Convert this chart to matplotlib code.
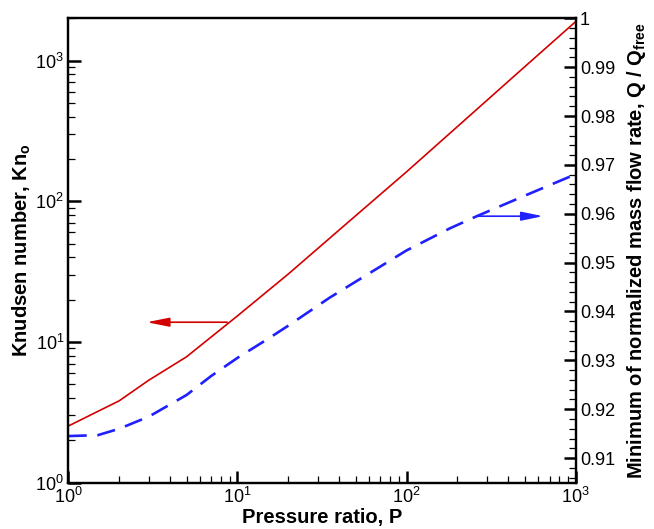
import numpy as np
import matplotlib.pyplot as plt
from matplotlib.ticker import LogLocator, MultipleLocator, FuncFormatter

plt.rcParams['font.family'] = ['Liberation Sans', 'DejaVu Sans']
plt.rcParams['mathtext.fontset'] = 'custom'
plt.rcParams['mathtext.rm'] = 'Liberation Sans'
plt.rcParams['mathtext.bf'] = 'Liberation Sans:bold'

# Knudsen number vs pressure ratio (left axis)
p_kn = [1, 2, 3, 5, 10, 20, 50, 100, 200, 500, 1000]
kn = [2.52, 3.81, 5.35, 7.83, 15.3, 30.4, 78.9, 162, 340, 906, 1896]

# minimum of normalized mass flow rate (right axis)
p_q = [1, 1.5, 2, 3, 5, 7, 10, 15, 20, 35, 50, 70, 100, 180, 260, 500, 1000]
q_min = [0.9145, 0.9147, 0.9160, 0.9185, 0.9229, 0.9268, 0.9305, 0.9343,
         0.9371, 0.9428, 0.9461, 0.9492, 0.9525, 0.9570, 0.9595, 0.9637, 0.9681]

red = '#d40000'
blue = '#2020ff'

fig = plt.figure(figsize=(6.54, 5.29), dpi=100)
ax = fig.add_axes([0.1044, 0.0879, 0.7759, 0.8775])
ax2 = ax.twinx()

ax.plot(p_kn, kn, color=red, lw=1.2)
ax2.plot(p_q, q_min, color=blue, lw=1.9, dashes=(7, 4))

ax.set_xscale('log')
ax.set_yscale('log')
ax.set_xlim(1, 1000)
ax.set_ylim(1, 2000)
ax2.set_ylim(0.905, 1.0)

# arrows pointing at the axis each curve belongs to
ax.annotate('', xy=(2.91, 13.8), xytext=(8.7, 13.8),
            arrowprops=dict(arrowstyle='-|>,head_length=1.35,head_width=0.27',
                            color=red, lw=1.2, mutation_scale=10,
                            shrinkA=0, shrinkB=0))
ax2.annotate('', xy=(640, 0.9595), xytext=(262, 0.9595),
             arrowprops=dict(arrowstyle='-|>,head_length=1.3,head_width=0.27',
                             color=blue, lw=1.2, mutation_scale=10,
                             shrinkA=0, shrinkB=0))

ax.xaxis.set_major_locator(LogLocator(base=10, numticks=10))
ax.xaxis.set_minor_locator(LogLocator(base=10, subs=np.arange(2, 10), numticks=10))
ax.yaxis.set_major_locator(LogLocator(base=10, numticks=10))
ax.yaxis.set_minor_locator(LogLocator(base=10, subs=np.arange(2, 10), numticks=10))
ax.xaxis.set_minor_formatter(plt.NullFormatter())
ax.yaxis.set_minor_formatter(plt.NullFormatter())

ax2.yaxis.set_major_locator(MultipleLocator(0.01))
ax2.yaxis.set_minor_locator(MultipleLocator(0.002))
ax2.yaxis.set_major_formatter(FuncFormatter(lambda v, pos: '%g' % round(v, 3)))

for a in (ax, ax2):
    for s in a.spines.values():
        s.set_linewidth(1.6)
    a.tick_params(which='major', direction='in', length=9, width=1.8, labelsize=13)
    a.tick_params(which='minor', direction='in', length=5, width=0.9)

ax.tick_params(which='both', top=False, right=False)
ax.tick_params(axis='x', pad=3)
ax.tick_params(axis='y', pad=3)
ax2.tick_params(which='both', left=False, right=True, pad=3)

ax.set_xlabel('Pressure ratio, P', fontsize=14.5, fontweight='bold', labelpad=1)
ax.set_ylabel(r'Knudsen number, Kn$_{\mathbf{o}}$', fontsize=14.5, fontweight='bold', labelpad=2)
ax2.set_ylabel(r'Minimum of normalized mass flow rate, Q / Q$_{\mathbf{free}}$',
               fontsize=14.5, fontweight='bold', labelpad=7)

fig.savefig('out.png', dpi=100)
